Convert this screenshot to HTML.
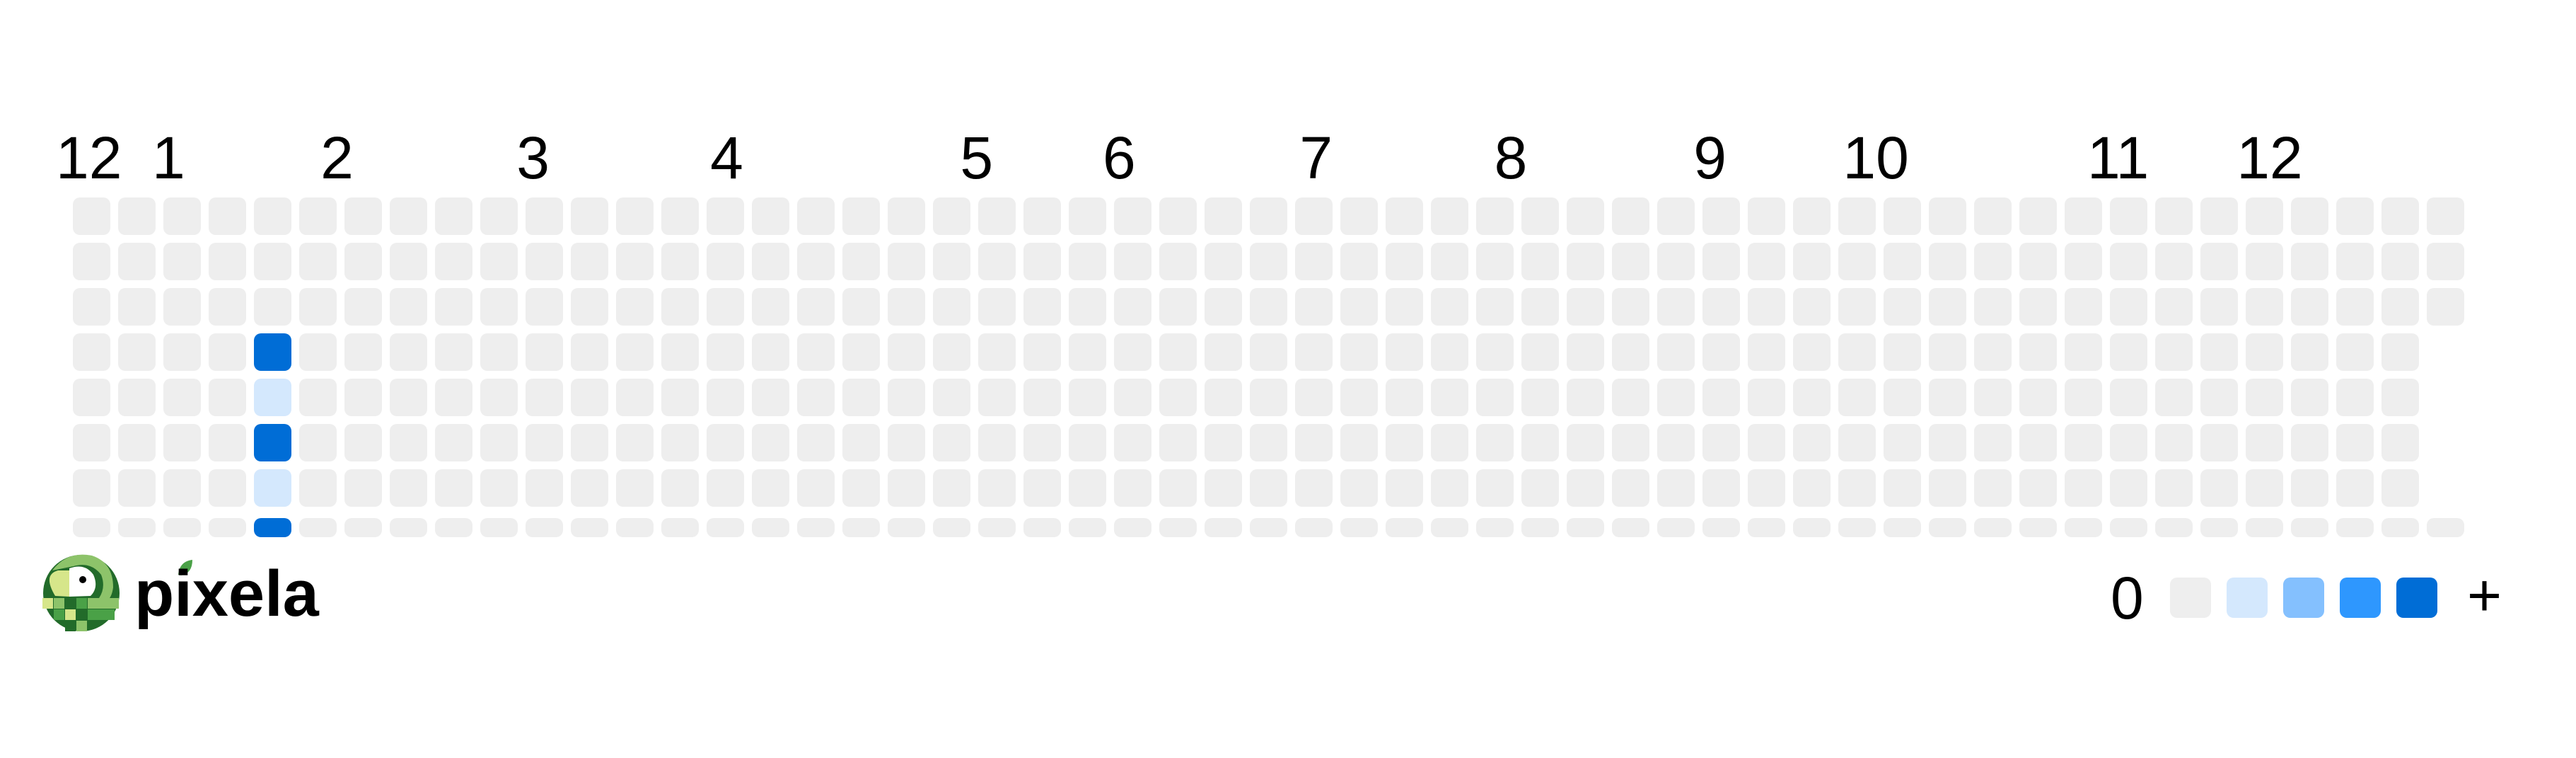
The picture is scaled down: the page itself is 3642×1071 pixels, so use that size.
<!DOCTYPE html>
<html><head><meta charset="utf-8">
<style>
html,body{margin:0;padding:0;background:#fff;}
svg{display:block;}
text{font-family:"Liberation Sans",Arial,sans-serif;}
</style></head>
<body>
<svg id="chart" width="3642" height="1071" viewBox="0 0 3642 1071" xmlns="http://www.w3.org/2000/svg">
  <g id="labels"></g>
  <g id="cells"></g>
  <g id="logo">
    <circle cx="115" cy="838" r="54" fill="#226b2a"/>
    <path d="M74,806 Q95,778 130,785 Q160,795 160,830 Q158,845 150,850 L140,845 Q150,830 143,812 Q128,793 104,800 Z" fill="#8dc36a"/>
    <path d="M82,806 Q60,812 78,842 L98,843 L98,806 Z" fill="#d6e68a"/>
    <path d="M98,803 Q120,795 132,812 Q140,830 128,842 L98,843 Z" fill="#ffffff"/>
    <circle cx="117" cy="819" r="5" fill="#000"/>
    <rect x="60" y="845" width="15" height="15" fill="#d6e68a"/>
    <rect x="76" y="845" width="15" height="15" fill="#8dc36a"/>
    <rect x="92" y="845" width="15" height="15" fill="#226b2a"/>
    <rect x="108" y="845" width="15" height="15" fill="#4aa147"/>
    <rect x="124" y="845" width="44" height="15" fill="#8dc36a"/>
    <rect x="76" y="861" width="15" height="15" fill="#4aa147"/>
    <rect x="92" y="861" width="15" height="15" fill="#d6e68a"/>
    <rect x="108" y="861" width="15" height="15" fill="#226b2a"/>
    <rect x="124" y="861" width="38" height="15" fill="#4aa147"/>
    <rect x="92" y="877" width="15" height="15" fill="#226b2a"/>
    <rect x="108" y="877" width="15" height="15" fill="#8dc36a"/>
    <path d="M252,812 Q254,793 272,791 Q272,810 256,813 Z" fill="#4aa147"/>
    <text x="190" y="870" font-size="92" font-weight="bold" fill="#000">pixela</text>
  </g>
  <g id="legend"></g>
</svg>
<script>
// Chart data
const weekCount = 53;
const monthLabels = ["12","1","2","3","4","5","6","7","8","9","10","11","12"];
const monthWeekPos = [-0.375,1.75,5.47,9.8,14.08,19.6,22.75,27.1,31.4,35.8,39.1,44.5,47.8];
const activeWeeks = [4,4,4,4,4];
const activeDays = [3,4,5,6,7];
const activeLevels = [4,1,4,1,4];
const lastWeekDays = [0,1,2,7];
const levelColors = ["#eeeeee","#d4e8fd","#84c0fe","#2e97fe","#006dd6"];

const NS = "http://www.w3.org/2000/svg";
const x0 = 103, pitch = 64, cell = 53, y0 = 279;
function xWeek(w){ return x0 + w*pitch; }
function yDay(d){ return d < 7 ? y0 + d*pitch : 732; }
function hDay(d){ return d < 7 ? cell : 27; }

const labels = document.getElementById('labels');
monthLabels.forEach((m,i)=>{
  const t = document.createElementNS(NS,'text');
  t.setAttribute('x', xWeek(monthWeekPos[i]));
  t.setAttribute('y', 252);
  t.setAttribute('font-size', 84);
  t.textContent = m;
  
  
  labels.appendChild(t);
});

const cells = document.getElementById('cells');
for (let w=0; w<weekCount; w++){
  for (let d=0; d<8; d++){
    if (w === weekCount-1 && !lastWeekDays.includes(d)) continue;
    let lvl = 0;
    for (let k=0;k<activeWeeks.length;k++){
      if (activeWeeks[k]===w && activeDays[k]===d) lvl = activeLevels[k];
    }
    const r = document.createElementNS(NS,'rect');
    r.setAttribute('x', xWeek(w));
    r.setAttribute('y', yDay(d));
    r.setAttribute('width', cell);
    r.setAttribute('height', hDay(d));
    r.setAttribute('rx', 10);
    r.setAttribute('fill', levelColors[lvl]);
    
    
    cells.appendChild(r);
  }
}

const legend = document.getElementById('legend');
const t0 = document.createElementNS(NS,'text');
t0.setAttribute('x', 2984); t0.setAttribute('y', 874); t0.setAttribute('font-size', 84);
t0.textContent = '0';


legend.appendChild(t0);
levelColors.forEach((c,i)=>{
  const r = document.createElementNS(NS,'rect');
  r.setAttribute('x', 3068 + i*80); r.setAttribute('y', 816);
  r.setAttribute('width', 58); r.setAttribute('height', 57); r.setAttribute('rx', 10);
  r.setAttribute('fill', c);
  
  
  legend.appendChild(r);
});
const tp = document.createElementNS(NS,'text');
tp.setAttribute('x', 3488); tp.setAttribute('y', 870); tp.setAttribute('font-size', 84);
tp.textContent = '+';


legend.appendChild(tp);
</script>
</body></html>
